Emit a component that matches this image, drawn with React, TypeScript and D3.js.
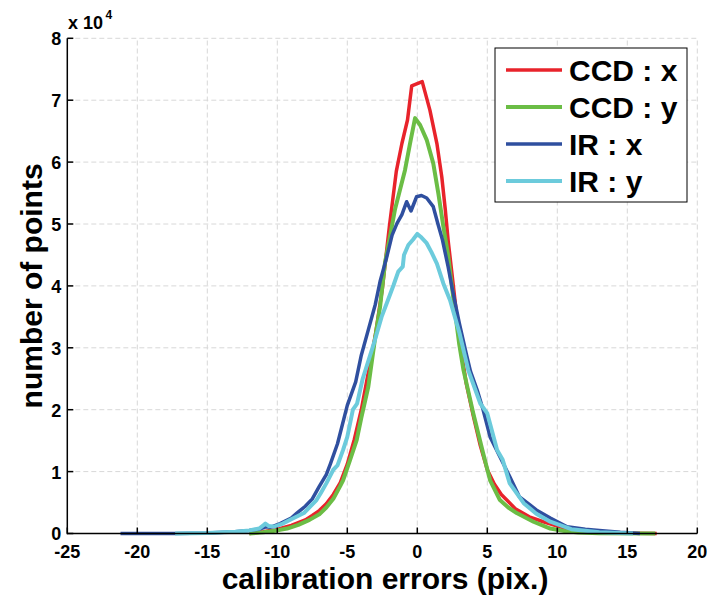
import React from "react";
import * as d3 from "d3";

const xTicks = [-25, -20, -15, -10, -5, 0, 5, 10, 15, 20];
const yTicks = [0, 1, 2, 3, 4, 5, 6, 7, 8];

const ccdXx = [-12, -11, -10, -9, -8, -7.5, -7, -6.5, -6, -5.5, -5, -4.5, -4, -3.5, -3, -2.5, -2, -1.5, -1.1, -0.7, -0.4, 0.35, 0.9, 1.4, 1.75, 2.0, 2.2, 2.5, 3.0, 3.5, 4.0, 4.5, 5.0, 5.5, 6.0, 7.0, 8.0, 9.0, 10.0, 11.0, 12.0, 14.0, 17.1];
const ccdXy = [0, 0.03, 0.07, 0.13, 0.22, 0.29, 0.37, 0.48, 0.63, 0.82, 1.12, 1.52, 2.0, 2.6, 3.2, 3.95, 4.95, 5.85, 6.3, 6.68, 7.23, 7.3, 6.84, 6.3, 5.76, 5.23, 4.74, 4.15, 3.15, 2.42, 1.9, 1.42, 1.03, 0.8, 0.63, 0.4, 0.27, 0.19, 0.12, 0.06, 0.03, 0.01, 0];

const ccdYx = [-12, -11, -10, -9.3, -8.5, -7.7, -7, -6.5, -6, -5.5, -5.3, -4.8, -4.33, -4, -3.5, -3, -2.66, -2.31, -2, -1.6, -1.24, -0.88, -0.52, -0.16, 0.2, 0.67, 1.14, 1.5, 1.86, 2.2, 2.6, 3.0, 3.3, 4.0, 4.7, 5.2, 5.9, 6.5, 7.1, 8.3, 9.5, 10.5, 11.5, 13, 17];
const ccdYy = [0, 0.02, 0.05, 0.08, 0.14, 0.22, 0.31, 0.42, 0.56, 0.77, 0.86, 1.19, 1.51, 1.87, 2.37, 3.18, 3.66, 4.37, 4.74, 5.23, 5.55, 5.87, 6.3, 6.71, 6.6, 6.36, 5.98, 5.5, 4.96, 4.5, 3.75, 3.05, 2.64, 1.94, 1.3, 0.86, 0.54, 0.42, 0.33, 0.19, 0.08, 0.04, 0.015, 0.005, 0];

const irXx = [-21.2, -17.3, -15, -13, -12, -11.3, -11, -10.8, -10.5, -9.8, -9, -8.6, -8, -7.5, -7, -6.5, -6.2, -5.7, -5.0, -4.4, -4.0, -3.5, -3.0, -2.66, -2.2, -1.8, -1.45, -1.1, -0.76, -0.45, -0.05, 0.3, 0.67, 1.14, 1.5, 1.8, 2.2, 2.5, 3.0, 3.5, 3.8, 4.3, 4.7, 5.2, 5.9, 6.6, 7.3, 8.0, 8.5, 9.5, 10.7, 12, 13, 14.5, 15.9];
const irXy = [0, 0, 0.01, 0.03, 0.05, 0.07, 0.09, 0.11, 0.1, 0.16, 0.25, 0.33, 0.44, 0.56, 0.76, 0.95, 1.13, 1.45, 2.07, 2.45, 2.88, 3.29, 3.7, 4.07, 4.45, 4.82, 5.01, 5.15, 5.36, 5.21, 5.44, 5.46, 5.42, 5.28, 4.98, 4.74, 4.31, 3.95, 3.4, 2.9, 2.62, 2.3, 2.0, 1.56, 1.24, 0.92, 0.59, 0.47, 0.38, 0.25, 0.11, 0.07, 0.05, 0.02, 0];

const irYx = [-17.3, -15, -13, -12, -11.3, -11.0, -10.85, -10.6, -10.2, -9.6, -9, -8.1, -7.2, -6.9, -6.5, -6.0, -5.7, -5.3, -5.0, -4.6, -4.3, -3.9, -3.1, -2.55, -2.0, -1.7, -1.36, -1.04, -0.95, -0.64, -0.3, 0, 0.3, 0.67, 1.0, 1.4, 1.86, 2.34, 3.0, 3.64, 4.1, 4.5, 5.0, 5.7, 6.1, 6.6, 7.6, 8.5, 9.5, 11, 13, 15.4];
const irYy = [0, 0.01, 0.03, 0.05, 0.08, 0.13, 0.16, 0.12, 0.11, 0.16, 0.23, 0.33, 0.54, 0.65, 0.81, 1.03, 1.1, 1.35, 1.56, 2.0, 2.1, 2.5, 3.07, 3.5, 3.83, 4.01, 4.23, 4.31, 4.5, 4.66, 4.75, 4.84, 4.78, 4.69, 4.55, 4.36, 4.04, 3.77, 3.25, 2.64, 2.35, 2.1, 1.94, 1.35, 1.19, 0.81, 0.49, 0.32, 0.19, 0.07, 0.02, 0];

const seriesNames = ["CCD : x", "CCD : y", "IR : x", "IR : y"];
const seriesColors = ["#e8232b", "#6bbd45", "#2f4f9f", "#6ccbdc"];
const seriesWidths = [3.5, 4, 3.5, 4];

const FONT = "'Liberation Sans', Arial, Helvetica, sans-serif";

export default function App() {
  const W = 707;
  const H = 597;
  const x = d3.scaleLinear().domain([-25, 20]).range([67.3, 697.3]);
  const y = d3.scaleLinear().domain([0, 8]).range([533.5, 38.3]);

  const series = [
    { xs: ccdXx, ys: ccdXy },
    { xs: ccdYx, ys: ccdYy },
    { xs: irXx, ys: irXy },
    { xs: irYx, ys: irYy },
  ];

  const line = d3
    .line<[number, number]>()
    .x((d) => x(d[0]))
    .y((d) => y(d[1]));

  const x0 = x(-25);
  const x1 = x(20);
  const yb = y(0);
  const yt = y(8);

  const legendX = 495;
  const legendY = 48;
  const legendW = 192;
  const legendH = 154;
  const rowYs = [70, 107, 144, 181];

  return (
    <svg
      width={W}
      height={H}
      style={{ position: "absolute", left: 0, top: 0, background: "#fff" }}
      fontFamily={FONT}
    >
      <rect x={0} y={0} width={W} height={H} fill="#fff" />
      {/* grid */}
      <g stroke="#d8d8d8" strokeWidth={1} strokeDasharray="5,3">
        {xTicks
          .filter((t) => t !== -25)
          .map((t) => (
            <line key={"gx" + t} x1={x(t)} x2={x(t)} y1={yb} y2={yt} />
          ))}
        {yTicks
          .filter((t) => t !== 0)
          .map((t) => (
            <line key={"gy" + t} x1={x0} x2={x1} y1={y(t)} y2={y(t)} />
          ))}
      </g>
      {/* curves */}
      <g fill="none" strokeLinejoin="round" strokeLinecap="butt">
        {series.map((s, i) => (
          <path
            key={i}
            d={line(s.xs.map((v, j) => [v, s.ys[j]] as [number, number])) || ""}
            stroke={seriesColors[i]}
            strokeWidth={seriesWidths[i]}
          />
        ))}
      </g>
      {/* axes */}
      <g stroke="#000" strokeWidth={1.5}>
        <line x1={x0} x2={x0} y1={yt} y2={yb + 0.75} />
        <line x1={x0} x2={x1} y1={yb} y2={yb} />
        {yTicks.map((t) => (
          <line key={"ty" + t} x1={x0} x2={x0 + 6} y1={y(t)} y2={y(t)} />
        ))}
        {xTicks.map((t) => (
          <line key={"tx" + t} x1={x(t)} x2={x(t)} y1={yb} y2={yb - 6} />
        ))}
      </g>
      {/* tick labels */}
      <g fontWeight="bold" fontSize={18} fill="#000">
        {yTicks.map((t) => (
          <text key={"ly" + t} x={x0 - 6} y={y(t) + (t === 0 ? 6 : 7)} textAnchor="end">
            {t}
          </text>
        ))}
        {xTicks.map((t) => (
          <text key={"lx" + t} x={x(t)} y={yb + 24} textAnchor="middle">
            {t}
          </text>
        ))}
        <text x={68} y={29}>
          x 10
        </text>
        <text x={105.5} y={19} fontSize={12}>
          4
        </text>
      </g>
      {/* axis titles */}
      <text
        x={385}
        y={589}
        textAnchor="middle"
        fontWeight="bold"
        fontSize={30}
        fill="#000"
      >
        calibration errors (pix.)
      </text>
      <text
        transform={`translate(42, ${(yb + yt) / 2}) rotate(-90)`}
        textAnchor="middle"
        fontWeight="bold"
        fontSize={30}
        fill="#000"
      >
        number of points
      </text>
      {/* legend */}
      <rect
        x={legendX}
        y={legendY}
        width={legendW}
        height={legendH}
        fill="#fff"
        stroke="#000"
        strokeWidth={1}
      />
      {seriesNames.map((n, i) => (
        <g key={"lg" + i}>
          <line
            x1={506}
            x2={562}
            y1={rowYs[i]}
            y2={rowYs[i]}
            stroke={seriesColors[i]}
            strokeWidth={seriesWidths[i]}
          />
          <text
            x={569}
            y={rowYs[i] + 10.5}
            fontWeight="bold"
            fontSize={30}
            fill="#000"
          >
            {n}
          </text>
        </g>
      ))}
    </svg>
  );
}
